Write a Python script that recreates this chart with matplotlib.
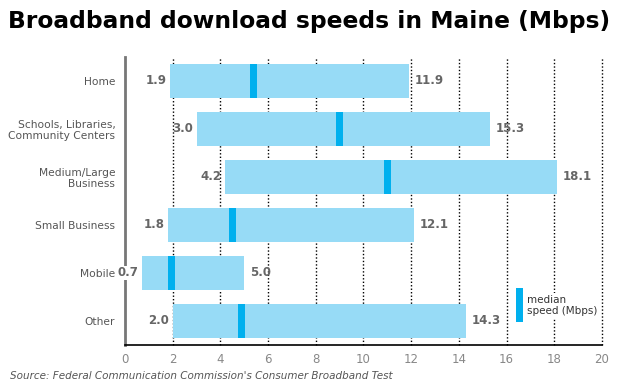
import numpy as np
import matplotlib
matplotlib.use("Agg")
import matplotlib.pyplot as plt

categories = ["Home", "Schools, Libraries,\nCommunity Centers", "Medium/Large\nBusiness",
              "Small Business", "Mobile", "Other"]
low = [1.9, 3.0, 4.2, 1.8, 0.7, 2.0]
high = [11.9, 15.3, 18.1, 12.1, 5.0, 14.3]
median = [5.4, 9.0, 11.0, 4.5, 1.95, 4.9]
xticks = [0, 2, 4, 6, 8, 10, 12, 14, 16, 18, 20]

bar_color = "#97dbf6"
med_color = "#00b0ee"
label_gray = "#666666"

fig = plt.figure(figsize=(6.24, 3.9), dpi=100)
ax = fig.add_axes([0.2003, 0.1154, 0.7644, 0.7386])

y = np.arange(len(categories))
for xv in xticks[1:]:
	ax.axvline(xv, color="black", linestyle=(0, (1, 1.5)), linewidth=1, zorder=1, clip_on=False)

lo = np.array(low)
hi = np.array(high)
ax.barh(y, hi - lo, left=lo, height=0.72, color=bar_color, zorder=2)
ax.barh(y, 0.3, left=np.array(median) - 0.15, height=0.72, color=med_color, zorder=3)

for i in range(len(categories)):
	ax.text(low[i] - 0.15, y[i], "%.1f" % low[i], ha="right", va="center",
			fontsize=8.5, fontweight="bold", color=label_gray, zorder=5,
			bbox=dict(facecolor="white", edgecolor="none", pad=0.5) if low[i] < 1 else None)
	ax.text(high[i] + 0.25, y[i], "%.1f" % high[i], ha="left", va="center",
			fontsize=8.5, fontweight="bold", color=label_gray, zorder=5)

# legend
ax.text(16.85, 4.67, "median\nspeed (Mbps)", ha="left", va="center", fontsize=7.5,
		color="#333333", linespacing=1.1, zorder=5,
		bbox=dict(facecolor="white", edgecolor="none", pad=1.5))
ax.barh(4.67, 0.3, left=16.4, height=0.71, color=med_color, zorder=6)

ax.set_xlim(0, 20)
ax.set_ylim(len(categories) - 0.5, -0.5)
ax.set_xticks(xticks)
ax.set_yticks(y)
ax.set_yticklabels(categories, fontsize=7.7, color="#555555", linespacing=1.1)
ax.tick_params(axis="x", length=0, labelsize=8.5, labelcolor="#888888", pad=6)
ax.tick_params(axis="y", length=0, pad=7)
for s in ["top", "right"]:
	ax.spines[s].set_visible(False)
ax.spines["left"].set_color("#777777")
ax.spines["left"].set_linewidth(2)
ax.spines["bottom"].set_color("black")
ax.spines["bottom"].set_linewidth(1.2)

fig.text(0.013, 0.945, "Broadband download speeds in Maine (Mbps)", fontsize=16.8,
		 fontweight="bold", ha="left", va="center")
fig.text(0.016, 0.035, "Source: Federal Communication Commission's Consumer Broadband Test",
		 fontsize=7.5, style="italic", color="#555555", ha="left", va="center")

fig.savefig("out.png", dpi=100)
